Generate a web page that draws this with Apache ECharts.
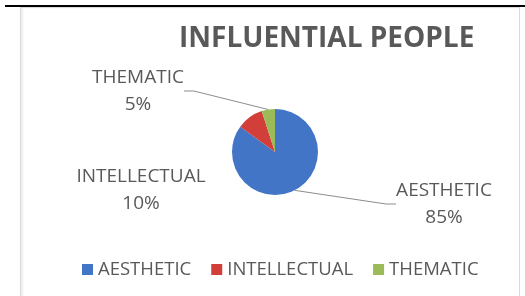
<!DOCTYPE html>
<html>
<head>
<meta charset="utf-8">
<script src="https://cdn.jsdelivr.net/npm/echarts@6/dist/echarts.min.js"></script>
<style>
  html, body { margin: 0; padding: 0; background: #fff; }
  .topbar { position: absolute; left: 5px; top: 5px; width: 520px; height: 2px; background: #000; }
  .frame { position: absolute; left: 20px; top: 7px; width: 498px; height: 300px; border: 1px solid #d9d9d9; border-bottom: none; box-shadow: inset 2px 0 2px #eee; }
  #main { position: absolute; left: 0; top: 0; width: 525px; height: 296px; }
</style>
</head>
<body>
<div class="topbar"></div>
<div class="frame"></div>
<div id="main"></div>
<script>
// 数据
const categories = ["AESTHETIC", "INTELLECTUAL", "THEMATIC"];
const values = [85, 10, 5];
const colors = ["#4275c6", "#d23f3a", "#9bbb59"];
// 标签位置（中心点）
const labelPos = [
  [444, 204],
  [141, 190],
  [138, 91],
];

const chart = echarts.init(document.getElementById("main"));
chart.setOption({
  animation: false,
  color: colors,
  title: {
    text: "INFLUENTIAL PEOPLE",
    left: 174,
    top: 20,
    textStyle: {
      fontFamily: "Open Sans",
      fontWeight: "bold",
      fontSize: 28,
      color: "#595959",
    },
  },
  legend: {
    data: categories,
    left: 77,
    top: 255,
    icon: "rect",
    itemWidth: 11,
    itemHeight: 11,
    itemGap: 20,
    textStyle: {
      fontFamily: "Open Sans",
      fontSize: 18.5,
      color: "#595959",
    },
  },
  series: [
    {
      type: "pie",
      center: [275, 152],
      radius: 43,
      startAngle: 90,
      clockwise: true,
      label: {
        show: true,
        position: "outside",
        formatter: "{b}\n{d}%",
        fontFamily: "Open Sans",
        fontSize: 19,
        lineHeight: 27,
        color: "#595959",
        align: "center",
      },
      labelLine: {
        show: true,
        length: 10,
        length2: 10,
        lineStyle: { color: "#8c8c8c", width: 1 },
      },
      labelLayout: function (params) {
        const p = labelPos[params.dataIndex];
        return {
          x: p[0],
          y: p[1],
          align: "center",
          verticalAlign: "middle",
        };
      },
      data: categories.map(function (name, i) {
        return {
          name: name,
          value: values[i],
          labelLine: { show: i !== 1 },
        };
      }),
    },
  ],
});
</script>
</body>
</html>
